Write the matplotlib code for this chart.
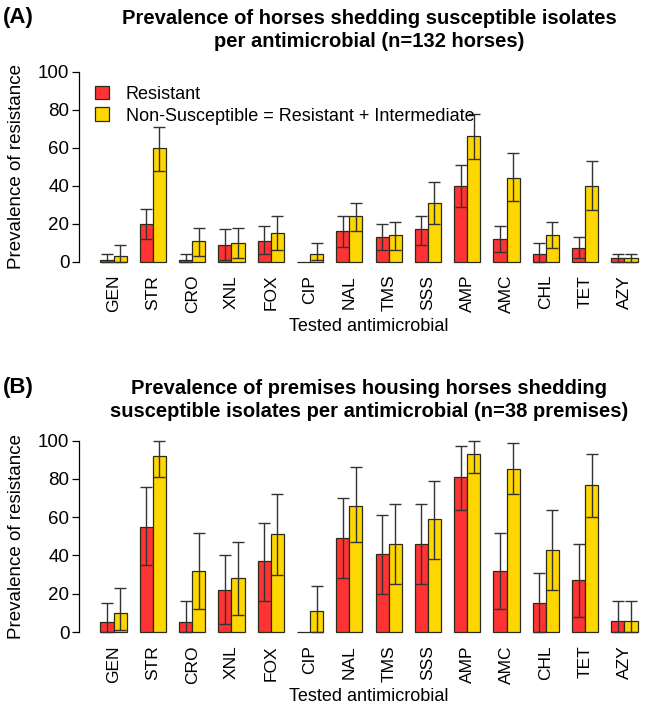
import matplotlib
matplotlib.use("Agg")
import matplotlib.pyplot as plt
from matplotlib.patches import Patch
import numpy as np

drugs = ["GEN", "STR", "CRO", "XNL", "FOX", "CIP", "NAL", "TMS", "SSS", "AMP", "AMC", "CHL", "TET", "AZY"]

# Panel A: horses (n=132)
a_res = [1, 20, 1, 9, 11, 0, 16, 13, 17, 40, 12, 4, 7, 2]
a_res_lo = [0, 12, 0, 1, 4, 0, 8, 6, 9, 29, 5, 0, 2, 0]
a_res_hi = [4, 28, 4, 17, 19, 0, 24, 20, 24, 51, 19, 10, 13, 4]
a_ns = [3, 60, 11, 10, 15, 4, 24, 14, 31, 66, 44, 14, 40, 2]
a_ns_lo = [0, 48, 3, 2, 6, 1, 16, 6, 20, 54, 32, 7, 27, 0]
a_ns_hi = [9, 71, 18, 18, 24, 10, 31, 21, 42, 78, 57, 21, 53, 4]

# Panel B: premises (n=38)
b_res = [5, 55, 5, 22, 37, 0, 49, 41, 46, 81, 32, 15, 27, 6]
b_res_lo = [0, 35, 0, 4, 16, 0, 28, 20, 25, 64, 12, 0, 8, 0]
b_res_hi = [15, 76, 16, 40, 57, 0, 70, 61, 67, 97, 52, 31, 46, 16]
b_ns = [10, 92, 32, 28, 51, 11, 66, 46, 59, 93, 85, 43, 77, 6]
b_ns_lo = [1, 81, 12, 9, 30, 0, 47, 25, 38, 83, 72, 22, 60, 0]
b_ns_hi = [23, 100, 52, 47, 72, 24, 86, 67, 79, 100, 99, 64, 93, 16]

titles = ["Prevalence of horses shedding susceptible isolates\nper antimicrobial (n=132 horses)",
          "Prevalence of premises housing horses shedding\nsusceptible isolates per antimicrobial (n=38 premises)"]
panel_tags = ["(A)", "(B)"]
legend_labels = ["Resistant", "Non-Susceptible = Resistant + Intermediate"]

RED = "#FF3333"
YEL = "#FFD700"
EDGE = "#2b2b1a"
ERR = "#333333"

plt.rcParams["font.family"] = ["Liberation Sans", "DejaVu Sans"]
TITLE_FONT = ["Liberation Sans Narrow", "Liberation Sans", "DejaVu Sans"]

fig = plt.figure(figsize=(6.57, 7.09), dpi=100)

axes_rects = [
    [79 / 657, 1 - 269.3 / 709, 580 / 657, (269.3 - 64.1) / 709],
    [79 / 657, 1 - 639.7 / 709, 580 / 657, (639.7 - 433.0) / 709],
]
tag_y = [1 - 17 / 709, 1 - 387 / 709]
title_y = [1 - 30 / 709, 1 - 400 / 709]

data = [(a_res, a_res_lo, a_res_hi, a_ns, a_ns_lo, a_ns_hi),
        (b_res, b_res_lo, b_res_hi, b_ns, b_ns_lo, b_ns_hi)]

n = len(drugs)
idx = np.arange(n)
xr = 3 * idx + 1.5
xy = 3 * idx + 2.5

FS = 13

for k in range(2):
    res, rlo, rhi, ns, nlo, nhi = [np.array(v, dtype=float) for v in data[k]]
    ax = fig.add_axes(axes_rects[k])
    ax.bar(xr, res, width=1.0, color=RED, edgecolor=EDGE, linewidth=0.9, zorder=2)
    ax.bar(xy, ns, width=1.0, color=YEL, edgecolor=EDGE, linewidth=0.9, zorder=2)
    mr = rhi > 0
    ax.errorbar(xr[mr], res[mr], yerr=[res[mr] - rlo[mr], rhi[mr] - res[mr]], fmt="none",
                ecolor=ERR, elinewidth=1.0, capsize=4.3, capthick=1.0, zorder=3)
    ax.errorbar(xy, ns, yerr=[ns - nlo, nhi - ns], fmt="none",
                ecolor=ERR, elinewidth=1.0, capsize=4.3, capthick=1.0, zorder=3)
    ax.set_xlim(-0.64, 43.64)
    ax.set_ylim(-4, 104)
    ax.set_yticks([0, 20, 40, 60, 80, 100])
    ax.tick_params(axis="y", labelsize=FS + 0.5, length=5, width=0.9, pad=2)
    ax.set_xticks(3 * idx + 2)
    ax.set_xticklabels(drugs, rotation=90, fontsize=12.5)
    ax.tick_params(axis="x", length=0, pad=4)
    for s in ["top", "right", "bottom"]:
        ax.spines[s].set_visible(False)
    ax.spines["left"].set_bounds(0, 100)
    ax.spines["left"].set_linewidth(0.9)
    ax.set_ylabel("Prevalence of resistance", fontsize=FS + 0.5, labelpad=9)
    ax.set_xlabel("Tested antimicrobial", fontsize=FS, labelpad=3)
    fig.text(0.005, tag_y[k], panel_tags[k], fontsize=16, fontweight="bold",
             family=TITLE_FONT, va="center", ha="left")
    fig.text((79 + 580 / 2) / 657, title_y[k], titles[k], fontsize=14.5, fontweight="bold",
             family=TITLE_FONT, va="center", ha="center", linespacing=1.25)
    if k == 0:
        handles = [Patch(facecolor=RED, edgecolor=EDGE, linewidth=0.9),
                   Patch(facecolor=YEL, edgecolor=EDGE, linewidth=0.9)]
        ax.legend(handles, legend_labels, loc="upper left", bbox_to_anchor=(0.015, 0.93),
                  frameon=False, fontsize=FS, handlelength=0.8, handleheight=0.8,
                  handletextpad=0.9, labelspacing=0.25, borderaxespad=0)

fig.savefig("out.png", dpi=100)
